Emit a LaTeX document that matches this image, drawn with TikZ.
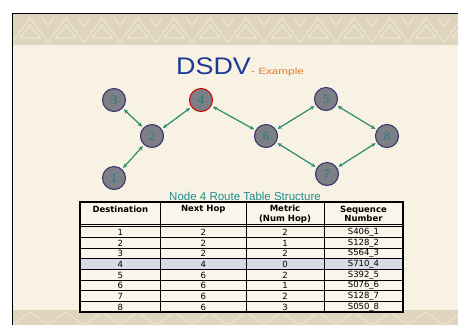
\documentclass[tikz,border=0pt]{standalone}
\usepackage{fontspec}
\setmainfont{Liberation Sans}
\newfontfamily\tabfont{DejaVu Sans}
\newfontfamily\numfont{Liberation Serif}
\usetikzlibrary{arrows.meta}
\definecolor{bgcream}{HTML}{F8F2E4}
\definecolor{bandtan}{HTML}{DFD5BF}
\definecolor{bandlight}{HTML}{ECE4D2}
\definecolor{edgegreen}{HTML}{2A8E6C}
\definecolor{nodegray}{HTML}{7E7E86}
\definecolor{nodeborder}{HTML}{2F2F6A}
\definecolor{numteal}{HTML}{1F7F80}
\definecolor{titleblue}{HTML}{1A3A96}
\definecolor{exorange}{HTML}{E27A2E}
\definecolor{tealtitle}{HTML}{1E8C8C}
\definecolor{rowblue}{HTML}{D8DDE5}
\definecolor{tabfill}{HTML}{FAF5EA}
\tikzset{
  net/.style={circle, minimum size=23pt, inner sep=0pt, fill=nodegray, draw=nodeborder,
    line width=1pt, font=\numfont\fontsize{13}{13}\selectfont, text=numteal},
  hot/.style={draw=red!80!black},
  link/.style={draw=edgegreen, line width=1.2pt,
    {Stealth[length=4.5pt,width=4pt]}-{Stealth[length=4.5pt,width=4pt]},
    shorten >=1.5pt, shorten <=1.5pt},
  cell/.style={inner sep=0pt, font=\tabfont\fontsize{8.5}{9}\selectfont, text=black},
  headcell/.style={cell, font=\tabfont\bfseries\fontsize{8.5}{9.5}\selectfont, align=center},
  band/.style={fill=bandtan},
  bandmark/.style={draw=bandlight, line width=1.2pt}
}
\begin{document}
\begin{tikzpicture}[x=1pt,y=-1pt]
\useasboundingbox (0,0) rectangle (458,325);
\fill[white] (0,0) rectangle (458,325);
\fill[bgcream] (12,13) rectangle (458,325);
% decorative bands
\fill[band] (12,14) rectangle (458,45);
\fill[band] (12,310) rectangle (458,325);
\foreach \x in {12,48,...,460}{
  \draw[bandmark] (\x,42) -- (\x+18,18) -- (\x+36,42);
  \draw[bandmark] (\x+8,38) -- (\x+18,25) -- (\x+28,38) -- cycle;
  \draw[bandmark] (\x+30,18) -- (\x+36,26) -- (\x+42,18);
  \draw[bandmark] (\x,325) -- (\x+18,312) -- (\x+36,325);
}
\draw[black, line width=1pt] (12,325) -- (12,13) -- (458,13);
% title
\node[anchor=base west, inner sep=0pt, text=titleblue, font=\fontsize{24}{24}\selectfont] (title) at (176,74) {\scalebox{1.12}[1]{DSDV}};
\node[anchor=base west, inner sep=0pt, text=exorange, font=\fontsize{9}{9}\selectfont] (ex) at (251,74) {\scalebox{1.3}[1]{- Example}};
% network
\node[net] (n3) at (114,100) {3};
\node[net, hot] (n4) at (201,100) {4};
\node[net] (n5) at (326,99) {5};
\node[net] (n2) at (152,136) {2};
\node[net] (n6) at (266,136) {6};
\node[net] (n8) at (387,136) {8};
\node[net] (n1) at (114,178) {1};
\node[net] (n7) at (327,174) {7};
\draw[link] (n3) -- (n2);
\draw[link] (n2) -- (n4);
\draw[link] (n1) -- (n2);
\draw[link] (n4) -- (n6);
\draw[link] (n6) -- (n5);
\draw[link] (n5) -- (n8);
\draw[link] (n8) -- (n7);
\draw[link] (n7) -- (n6);
% table title
\node[inner sep=0pt, text=tealtitle, font=\fontsize{11.5}{12}\selectfont] (ttitle) at (245,196) {Node 4 Route Table Structure};
% table
\fill[tabfill] (80,202) rectangle (403,312);
\fill[rowblue] (80,258.7) rectangle (403,269.4);
\draw[line width=1.1pt] (80,202) rectangle (403,312);
\foreach \x in {160.7,246,324}{\draw[line width=1pt] (\x,202) -- (\x,312);}
\draw[line width=1pt] (80,224.3) -- (403,224.3);
\foreach \k in {0,...,7}{\draw[line width=1pt] (80,226.7+10.66*\k) -- (403,226.7+10.66*\k);}
\node[headcell] (h1) at (120.3,209) {Destination};
\node[headcell] (h2) at (203.3,209) {Next Hop};
\node[headcell, align=center] (h3) at (285,214) {Metric\\(Num Hop)};
\node[headcell, align=center] (h4) at (363.5,214) {Sequence\\Number};
\foreach \d/\n/\m/\s [count=\k] in {1/2/2/S406\_1, 2/2/1/S128\_2, 3/2/2/S564\_3, 4/4/0/S710\_4,
    5/6/2/S392\_5, 6/6/1/S076\_6, 7/6/2/S128\_7, 8/6/3/S050\_8}{
  \node[cell] (d\k) at (120.3,226.7+10.66*\k-5.0) {\d};
  \node[cell] (x\k) at (203.3,226.7+10.66*\k-5.0) {\n};
  \node[cell] (m\k) at (285,226.7+10.66*\k-5.0) {\m};
  \node[cell] (s\k) at (363.5,226.7+10.66*\k-5.0) {\s};
}
\end{tikzpicture}
\end{document}
